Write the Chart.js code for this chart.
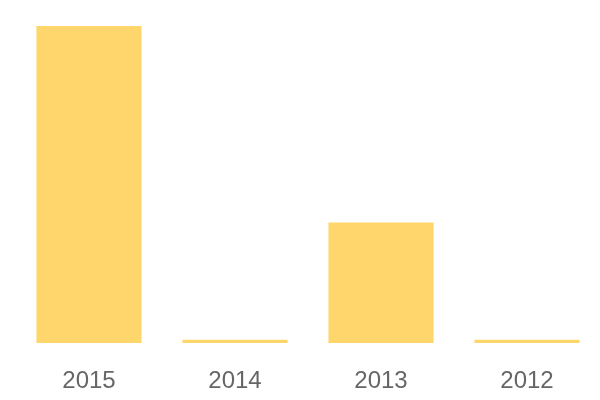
<!DOCTYPE html>
<html>
<head>
<meta charset="utf-8">
<script src="https://cdn.jsdelivr.net/npm/chart.js@4"></script>
<style>
  html, body { margin: 0; padding: 0; background: #fff; }
  #wrap { width: 600px; height: 400px; }
</style>
</head>
<body>
<div id="wrap"><canvas id="chart"></canvas></div>
<script>
const years = ["2015", "2014", "2013", "2012"];
const values = [100, 1, 38, 1];

const ctx = document.getElementById("chart").getContext("2d");

new Chart(ctx, {
    type: "bar",
    data: {
        labels: years,
        datasets: [{
            data: values,
            backgroundColor: "rgb(255, 214, 107)",
            borderWidth: 0,
            categoryPercentage: 0.9,
            barPercentage: 0.8
        }]
    },
    options: {
        responsive: true,
        maintainAspectRatio: false,
        animation: false,
        layout: { padding: { left: 16, right: 0, top: 26, bottom: 0 } },
        plugins: { legend: { display: false }, tooltip: { enabled: false } },
        scales: {
            x: {
                grid: { display: false, drawTicks: false },
                border: { display: false },
                ticks: {
                    color: "#666",
                    padding: 24,
                    font: { family: "'Liberation Sans', Arial, sans-serif", size: 24 }
                },
                afterFit: (scale) => { scale.height = 57; }
            },
            y: {
                display: false,
                min: 0,
                max: 100
            }
        }
    }
});
</script>
</body>
</html>
